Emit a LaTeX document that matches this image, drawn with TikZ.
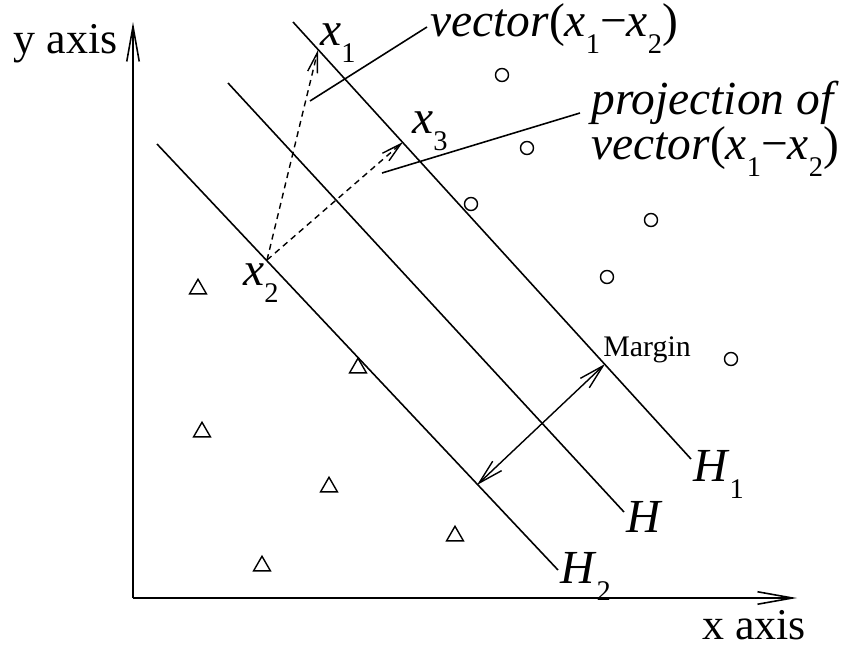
\documentclass[tikz,border=0pt]{standalone}
\usepackage{fontspec}
\setmainfont{Liberation Serif}
\usetikzlibrary{arrows.meta,shapes.geometric}

\newcommand{\vx}[1]{\textit{x}\raisebox{-0.36em}{\scalebox{0.6}{#1}}}

\begin{document}
\begin{tikzpicture}[
		x=0.02cm, y=-0.02cm,
		ln/.style	= {line width=0.9pt},
		ax/.style	= {line width=0.9pt, -{Straight Barb[length=7mm, width=2.5mm]}},
		da/.style	= {line width=0.8pt, dash pattern=on 3.4pt off 2.6pt, -{Straight Barb[length=4mm, width=2mm]}},
		ma/.style	= {line width=0.8pt, {Straight Barb[length=5mm, width=2.6mm]}-{Straight Barb[length=5mm, width=2.6mm]}},
		cir/.style	= {circle,	draw, line width=0.8pt, minimum size=2.6mm, inner sep=0},
		tri/.style	= {regular polygon, regular polygon sides=3, draw, line width=0.8pt, minimum size=3.9mm, inner sep=0},
		lab/.style	= {inner sep=0, anchor=base west, font=\fontsize{27}{23}\selectfont},
		alab/.style	= {inner sep=0, font=\fontsize{25}{25}\selectfont}
		]
		\useasboundingbox (0, 0) rectangle (850, 646);
		
		%Points
		\coordinate	(o)		at	(133, 598);
		\coordinate	(ytip)	at	(133, 22);
		\coordinate	(xtip)	at	(797, 598);
		
		\coordinate	(h1a)	at	(293, 22);
		\coordinate	(h1b)	at	(691, 459);
		\coordinate	(ha)	at	(228, 83);
		\coordinate	(hb)	at	(624, 512);
		\coordinate	(h2a)	at	(157, 144);
		\coordinate	(h2b)	at	(558, 570);
		
		\coordinate	(x1)	at	(318, 50);
		\coordinate	(x2)	at	(267, 260);
		\coordinate	(x3)	at	(403, 142);
		
		\coordinate	(m1)	at	(605, 364);
		\coordinate	(m2)	at	(477, 485);
		
		\coordinate	(va)	at	(310, 101);
		\coordinate	(vb)	at	(427, 27);
		\coordinate	(pa)	at	(382, 173);
		\coordinate	(pb)	at	(580, 113);
		
		%Nodes
		\node[alab, anchor=base east]	(ylab)	at	(118, 53)	{y axis};
		\node[alab, anchor=base west]	(xlab)	at	(702, 639)	{x axis};
		
		\node[lab]	(x1lab)	at	(320, 45)	{\vx{1}};
		\node[lab]	(x2lab)	at	(243, 285)	{\vx{2}};
		\node[lab]	(x3lab)	at	(412, 133)	{\vx{3}};
		
		\node[lab]	(vlab)	at	(430, 36)	{\textit{vector}(\vx{1}−\vx{2})};
		\node[lab, align=left]	(plab)	at	(591, 159)	{\textit{projection of}\\\textit{vector}(\vx{1}−\vx{2})};
		
		\node[lab]	(h1lab)	at	(693, 481)	{\textit{H}\raisebox{-0.36em}{\scalebox{0.6}{1}}};
		\node[lab]	(hlab)	at	(626, 532)	{\textit{H}};
		\node[lab]	(h2lab)	at	(560, 583)	{\textit{H}\raisebox{-0.36em}{\scalebox{0.6}{2}}};
		
		\node[inner sep=0, anchor=base west, font=\fontsize{17}{17}\selectfont]	(mlab)	at	(603, 356)	{Margin};
		
		\node[cir]	(c1)	at	(502, 75)	{};
		\node[cir]	(c2)	at	(527, 148)	{};
		\node[cir]	(c3)	at	(471, 204)	{};
		\node[cir]	(c4)	at	(651, 220)	{};
		\node[cir]	(c5)	at	(607, 277)	{};
		\node[cir]	(c6)	at	(731, 359)	{};
		
		\node[tri]	(t1)	at	(198, 289)	{};
		\node[tri]	(t2)	at	(358, 368)	{};
		\node[tri]	(t3)	at	(202, 432)	{};
		\node[tri]	(t4)	at	(329, 487)	{};
		\node[tri]	(t5)	at	(262, 566)	{};
		\node[tri]	(t6)	at	(455, 536)	{};
		
		%Lines
		\draw[ax]	(o)	to	(ytip);
		\draw[ax]	(o)	to	(xtip);
		
		\draw[ln]	(h1a)	to	(h1b);
		\draw[ln]	(ha)	to	(hb);
		\draw[ln]	(h2a)	to	(h2b);
		
		\draw[da]	(x2)	to	(x1);
		\draw[da]	(x2)	to	(x3);
		\draw[ma]	(m2)	to	(m1);
		
		\draw[ln]	(va)	to	(vb);
		\draw[ln]	(pa)	to	(pb);
	\end{tikzpicture}
\end{document}
